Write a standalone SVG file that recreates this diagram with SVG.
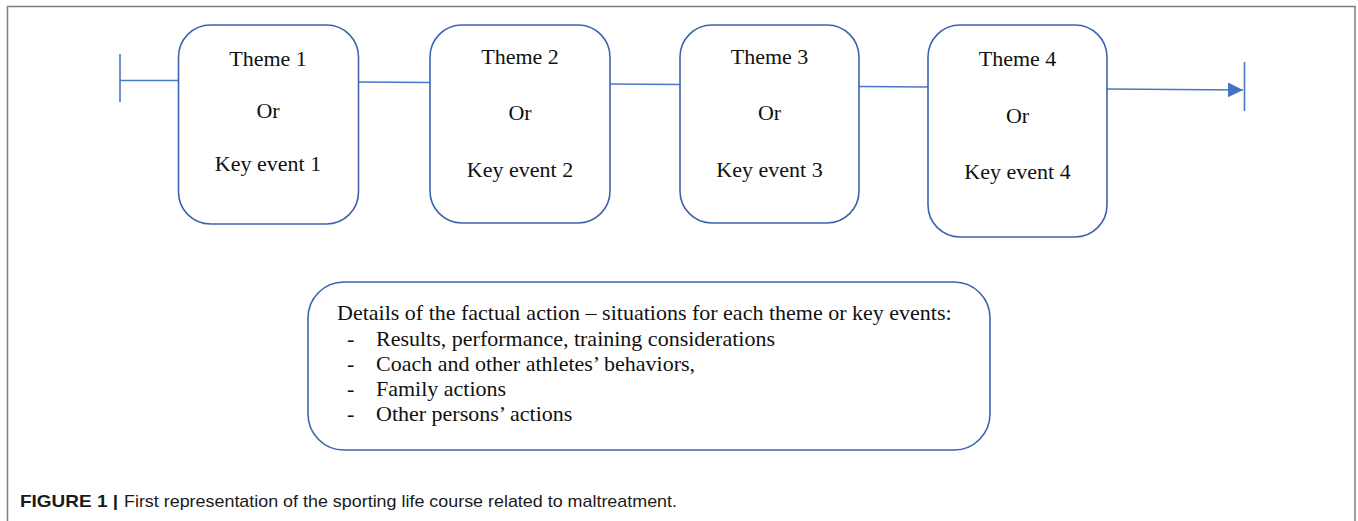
<svg xmlns="http://www.w3.org/2000/svg" width="1358" height="521" viewBox="0 0 1358 521">
  <style>
    .frame { fill: none; stroke: #7f7f7f; stroke-width: 1.5; }
    .box { fill: #ffffff; stroke: #3b64ad; stroke-width: 1.6; }
    .link { fill: none; stroke: #4a78c8; stroke-width: 1.6; }
    .lbl { font-family: "Liberation Serif", "Times New Roman", serif; font-size: 22px; fill: #111111; text-anchor: middle; }
    .det { font-family: "Liberation Serif", "Times New Roman", serif; font-size: 22px; fill: #111111; }
    .cap { font-family: "Liberation Sans", Arial, sans-serif; font-size: 17px; fill: #1a1a1a; }
  </style>
  <defs>
    <marker id="arrow" markerWidth="16" markerHeight="16" refX="15" refY="8" orient="auto" markerUnits="userSpaceOnUse">
      <path d="M0,0.5 L15,8 L0,15.5 Z" fill="#4472c4"/>
    </marker>
  </defs>

  <rect width="1358" height="521" fill="#ffffff"/>
  <!-- figure frame, open at the bottom -->
  <path class="frame" d="M7.5,521 V6.5 H1355 V521"/>

  <!-- timeline connectors -->
  <g id="connectors">
    <line class="link" x1="120" y1="54" x2="120" y2="102"/>
    <line class="link" x1="120" y1="80.5" x2="178" y2="80.5"/>
    <line class="link" x1="358" y1="82" x2="430" y2="82.5"/>
    <line class="link" x1="610" y1="84" x2="680" y2="84.5"/>
    <line class="link" x1="859" y1="86.5" x2="928" y2="87"/>
    <line class="link" x1="1107" y1="89" x2="1243" y2="90" marker-end="url(#arrow)"/>
    <line class="link" x1="1244.5" y1="62" x2="1244.5" y2="111"/>
  </g>

  <g id="theme1">
    <rect class="box" x="178.5" y="25" width="180" height="199" rx="32"/>
    <text class="lbl" x="268" y="66">Theme 1</text>
    <text class="lbl" x="268" y="118">Or</text>
    <text class="lbl" x="268" y="171">Key event 1</text>
  </g>

  <g id="theme2">
    <rect class="box" x="430" y="25" width="180" height="198" rx="32"/>
    <text class="lbl" x="520" y="64">Theme 2</text>
    <text class="lbl" x="520" y="120">Or</text>
    <text class="lbl" x="520" y="177">Key event 2</text>
  </g>

  <g id="theme3">
    <rect class="box" x="680" y="25" width="179" height="198" rx="32"/>
    <text class="lbl" x="769.5" y="64">Theme 3</text>
    <text class="lbl" x="769.5" y="120">Or</text>
    <text class="lbl" x="769.5" y="177">Key event 3</text>
  </g>

  <g id="theme4">
    <rect class="box" x="928" y="25" width="179" height="212" rx="32"/>
    <text class="lbl" x="1017.5" y="66">Theme 4</text>
    <text class="lbl" x="1017.5" y="123">Or</text>
    <text class="lbl" x="1017.5" y="179">Key event 4</text>
  </g>

  <g id="details">
    <rect class="box" x="308" y="282" width="682" height="168" rx="36"/>
    <text class="det" x="337" y="320">Details of the factual action – situations for each theme or key events:</text>
    <text class="det" x="347" y="346">-</text>
    <text class="det" x="376" y="346">Results, performance, training considerations</text>
    <text class="det" x="347" y="371">-</text>
    <text class="det" x="376" y="371">Coach and other athletes’ behaviors,</text>
    <text class="det" x="347" y="396">-</text>
    <text class="det" x="376" y="396">Family actions</text>
    <text class="det" x="347" y="421">-</text>
    <text class="det" x="376" y="421">Other persons’ actions</text>
  </g>

  <g id="caption">
    <text class="cap" x="20" y="507" font-weight="bold" textLength="98" lengthAdjust="spacingAndGlyphs">FIGURE 1 |</text>
    <text class="cap" x="124" y="507" textLength="553" lengthAdjust="spacingAndGlyphs">First representation of the sporting life course related to maltreatment.</text>
  </g>
</svg>
